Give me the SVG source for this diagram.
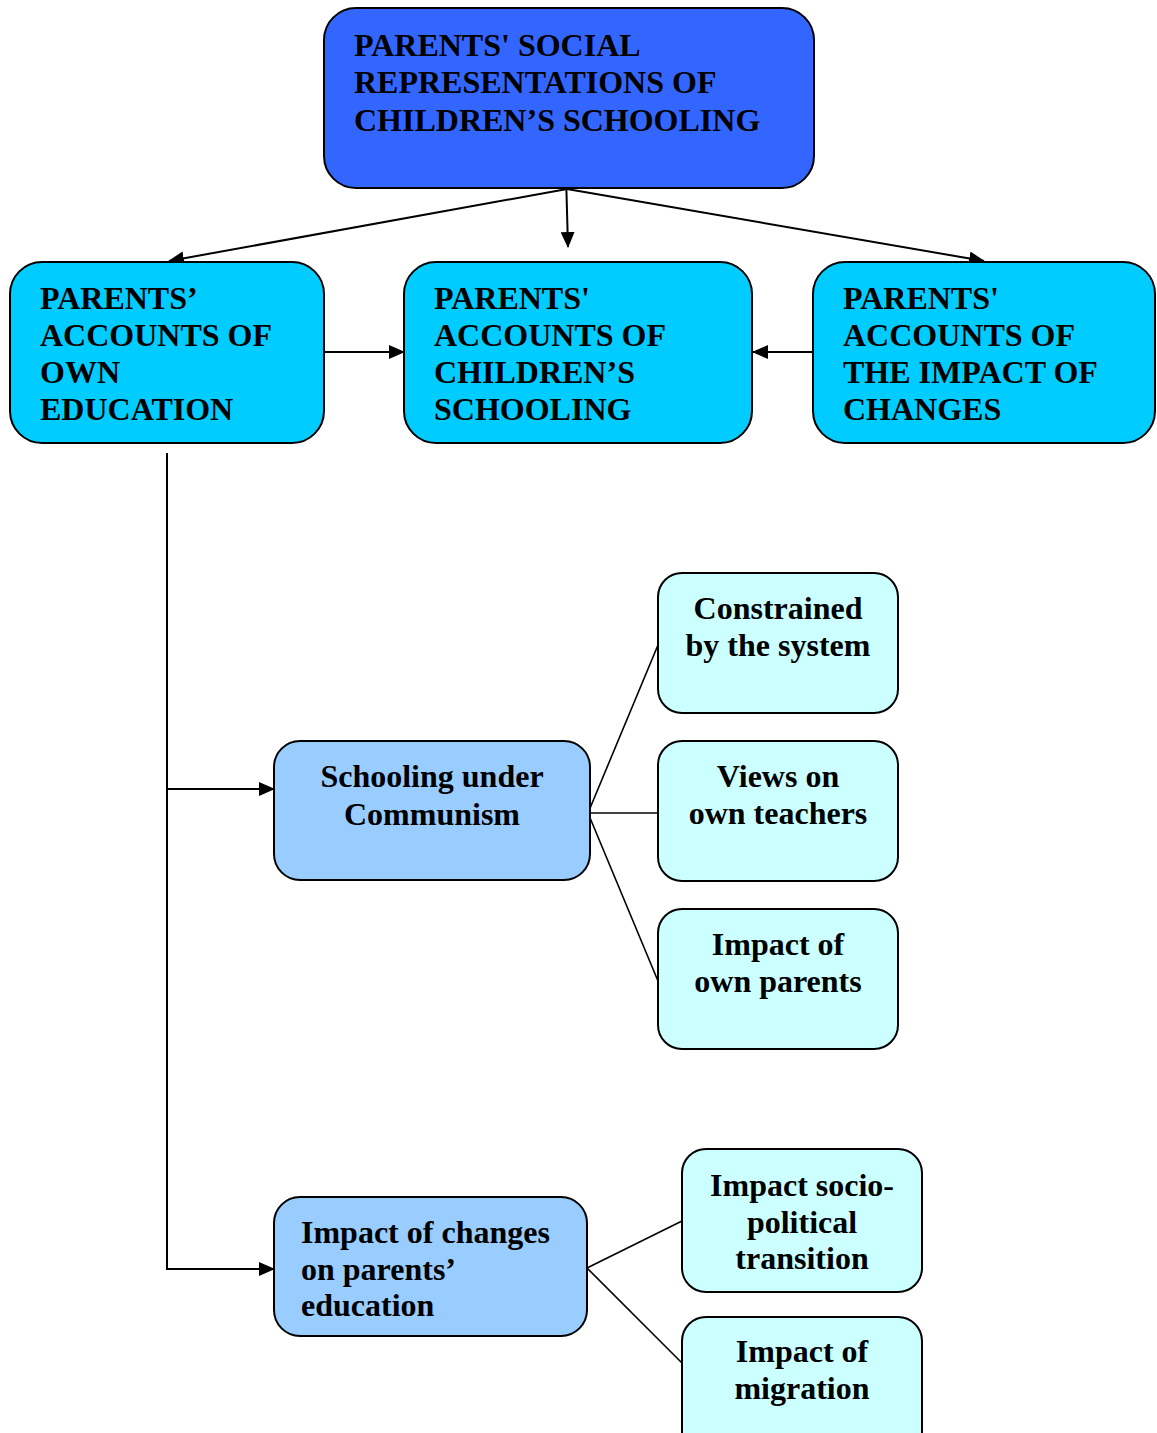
<svg xmlns="http://www.w3.org/2000/svg" width="1157" height="1433" viewBox="0 0 1157 1433">
<style>
.box{stroke:#000;stroke-width:2}
.t{font-family:"Liberation Serif","Times New Roman",serif;font-weight:bold;font-size:32px;fill:#000}
.c{text-anchor:middle}
.ln{stroke:#000;stroke-width:2;fill:none}
.thin{stroke:#000;stroke-width:1.6;fill:none}
</style>
<defs>
<marker id="ah" markerWidth="16" markerHeight="14" refX="15" refY="7" orient="auto" markerUnits="userSpaceOnUse">
<path d="M0,0 L16,7 L0,14 Z" fill="#000"/>
</marker>
</defs>
<rect width="1157" height="1433" fill="#fff"/>
<g id="connectors">
<line class="ln" x1="567" y1="189" x2="169" y2="261" marker-end="url(#ah)"/>
<line class="ln" x1="567" y1="189" x2="984" y2="261" marker-end="url(#ah)"/>
<line class="ln" x1="566" y1="175" x2="568" y2="247" marker-end="url(#ah)"/>
<line class="ln" x1="324" y1="352" x2="404" y2="352" marker-end="url(#ah)"/>
<line class="ln" x1="813" y1="352" x2="753" y2="352" marker-end="url(#ah)"/>
<line class="ln" x1="167" y1="453" x2="167" y2="1270"/>
<line class="ln" x1="167" y1="789" x2="274" y2="789" marker-end="url(#ah)"/>
<line class="ln" x1="166" y1="1269" x2="274" y2="1269" marker-end="url(#ah)"/>
<line class="thin" x1="588" y1="813" x2="658" y2="645"/>
<line class="thin" x1="588" y1="813" x2="658" y2="813"/>
<line class="thin" x1="588" y1="813" x2="658" y2="981"/>
<line class="thin" x1="587" y1="1268" x2="682" y2="1221"/>
<line class="thin" x1="587" y1="1268" x2="682" y2="1363"/>
</g>
<g id="root">
<rect class="box" x="324" y="8" width="490" height="180" rx="32" fill="#3366FF"/>
<text class="t" x="354" y="56">PARENTS' SOCIAL</text>
<text class="t" x="354" y="93">REPRESENTATIONS OF</text>
<text class="t" x="354" y="131">CHILDREN’S SCHOOLING</text>
</g>
<g id="own-education">
<rect class="box" x="10" y="262" width="314" height="181" rx="32" fill="#00CCFF"/>
<text class="t" x="40" y="309">PARENTS’</text>
<text class="t" x="40" y="346">ACCOUNTS OF</text>
<text class="t" x="40" y="383">OWN</text>
<text class="t" x="40" y="420">EDUCATION</text>
</g>
<g id="childrens-schooling">
<rect class="box" x="404" y="262" width="348" height="181" rx="32" fill="#00CCFF"/>
<text class="t" x="434" y="309">PARENTS'</text>
<text class="t" x="434" y="346">ACCOUNTS OF</text>
<text class="t" x="434" y="383">CHILDREN’S</text>
<text class="t" x="434" y="420">SCHOOLING</text>
</g>
<g id="impact-changes">
<rect class="box" x="813" y="262" width="342" height="181" rx="32" fill="#00CCFF"/>
<text class="t" x="843" y="309">PARENTS'</text>
<text class="t" x="843" y="346">ACCOUNTS OF</text>
<text class="t" x="843" y="383">THE IMPACT OF</text>
<text class="t" x="843" y="420">CHANGES</text>
</g>
<g id="communism">
<rect class="box" x="274" y="741" width="316" height="139" rx="26" fill="#99CCFF"/>
<text class="t c" x="432" y="787">Schooling under</text>
<text class="t c" x="432" y="825">Communism</text>
</g>
<g id="constrained">
<rect class="box" x="658" y="573" width="240" height="140" rx="24" fill="#CCFFFF"/>
<text class="t c" x="778" y="619">Constrained</text>
<text class="t c" x="778" y="656">by the system</text>
</g>
<g id="views">
<rect class="box" x="658" y="741" width="240" height="140" rx="24" fill="#CCFFFF"/>
<text class="t c" x="778" y="787">Views on</text>
<text class="t c" x="778" y="824">own teachers</text>
</g>
<g id="own-parents">
<rect class="box" x="658" y="909" width="240" height="140" rx="24" fill="#CCFFFF"/>
<text class="t c" x="778" y="955">Impact of</text>
<text class="t c" x="778" y="992">own parents</text>
</g>
<g id="changes-education">
<rect class="box" x="274" y="1197" width="313" height="139" rx="26" fill="#99CCFF"/>
<text class="t" x="301" y="1243">Impact of changes</text>
<text class="t" x="301" y="1280">on parents’</text>
<text class="t" x="301" y="1316">education</text>
</g>
<g id="socio-political">
<rect class="box" x="682" y="1149" width="240" height="143" rx="24" fill="#CCFFFF"/>
<text class="t c" x="802" y="1196">Impact socio-</text>
<text class="t c" x="802" y="1233">political</text>
<text class="t c" x="802" y="1269">transition</text>
</g>
<g id="migration">
<rect class="box" x="682" y="1317" width="240" height="140" rx="24" fill="#CCFFFF"/>
<text class="t c" x="802" y="1362">Impact of</text>
<text class="t c" x="802" y="1399">migration</text>
</g>
</svg>
